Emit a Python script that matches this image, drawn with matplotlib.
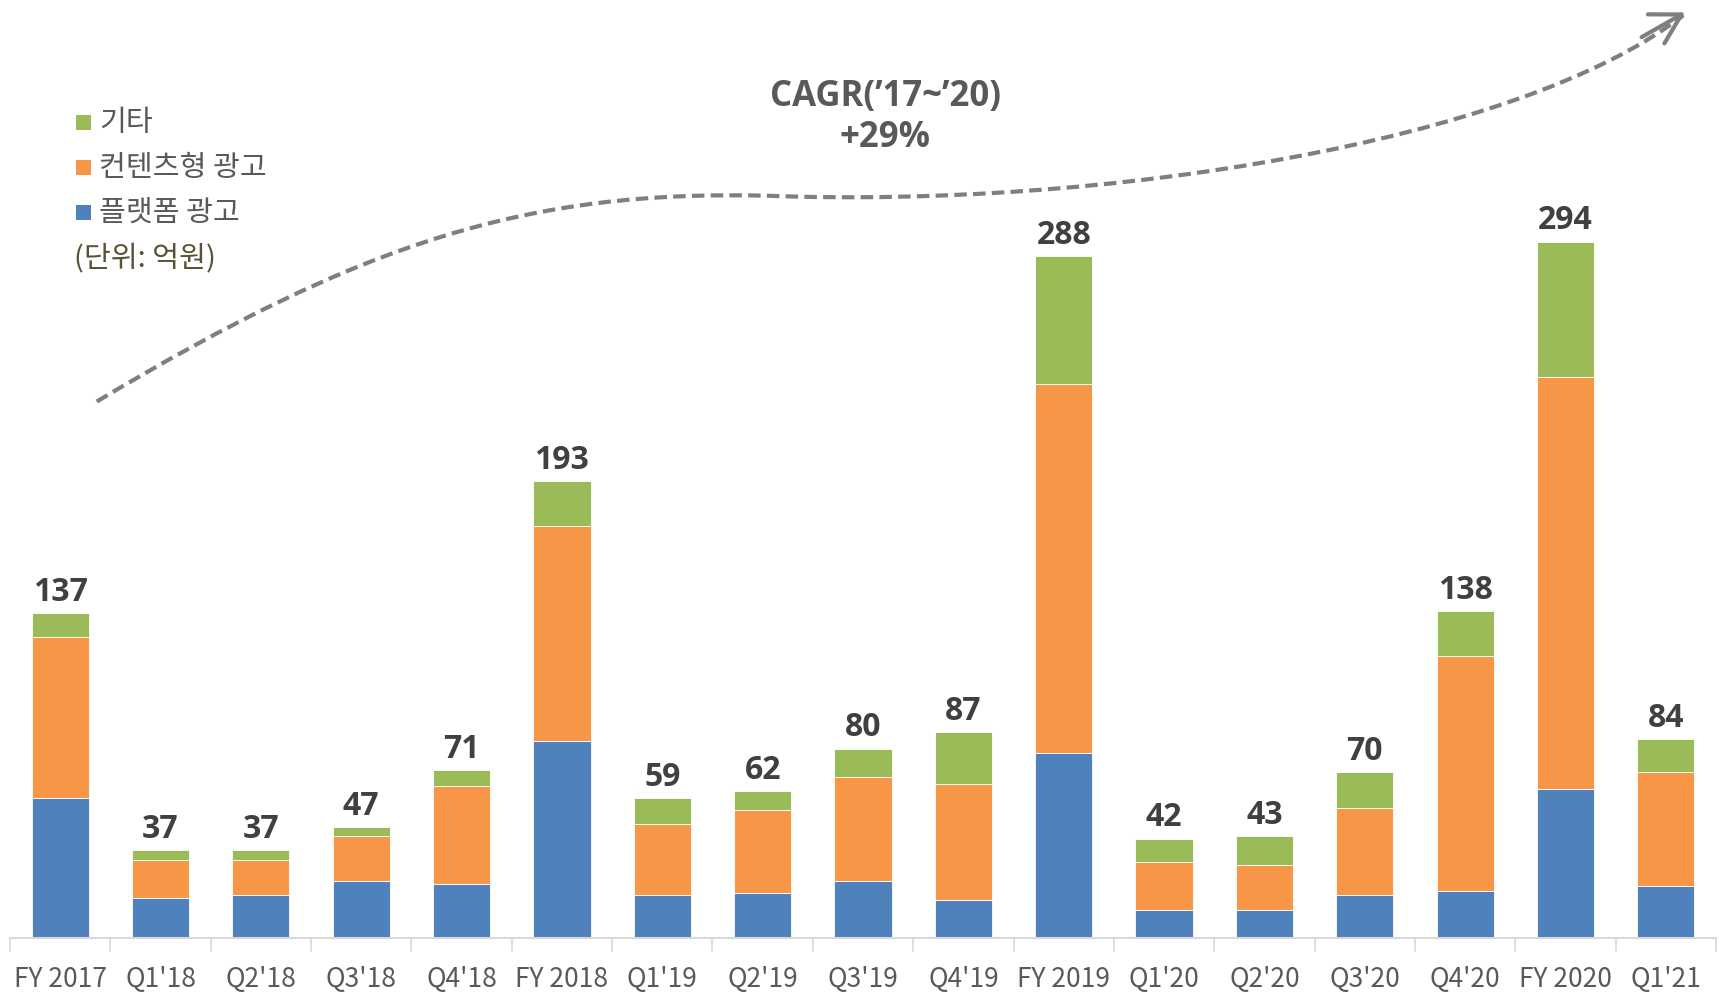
import numpy as np
import matplotlib
matplotlib.use('Agg')
from matplotlib import pyplot as plt
from matplotlib.path import Path
from matplotlib.patches import PathPatch, Rectangle, FancyArrowPatch

plt.rcParams['font.family'] = ['Noto Sans CJK KR', 'DejaVu Sans']

categories = ["FY 2017", "Q1'18", "Q2'18", "Q3'18", "Q4'18", "FY 2018",
              "Q1'19", "Q2'19", "Q3'19", "Q4'19", "FY 2019",
              "Q1'20", "Q2'20", "Q3'20", "Q4'20", "FY 2020", "Q1'21"]
platform = [59, 17, 18, 24, 23, 83, 18, 19, 24, 16, 78, 12, 12, 18, 20, 63, 22]
content = [68, 16, 15, 19, 41, 91, 30, 35, 44, 49, 156, 20, 19, 37, 99, 174, 48]
other = [10, 4, 4, 4, 7, 19, 11, 8, 12, 22, 54, 10, 12, 15, 19, 57, 14]
totals = [137, 37, 37, 47, 71, 193, 59, 62, 80, 87, 288, 42, 43, 70, 138, 294, 84]

BLUE = '#4F81BD'
ORANGE = '#F79646'
GREEN = '#9BBB59'
TXT = '#595959'
LATIN = ['Open Sans', 'Noto Sans CJK KR']

W, H = 1725, 992
fig = plt.figure(figsize=(W / 100, H / 100), dpi=100)
ax = fig.add_axes([10 / W, (H - 938) / H, (1716 - 10) / W, 938 / H])

x = np.arange(len(categories))
p = np.array(platform)
c = np.array(content)
o = np.array(other)
bw = 0.57
ax.bar(x, p, bw, color=BLUE, edgecolor='white', linewidth=0.6)
ax.bar(x, c, bw, bottom=p, color=ORANGE, edgecolor='white', linewidth=0.6)
ax.bar(x, o, bw, bottom=p + c, color=GREEN, edgecolor='white', linewidth=0.6)

for xi, t in zip(x, totals):
    ax.annotate(str(t), (xi, t), xytext=(0, 3), textcoords='offset points',
                ha='center', va='bottom', fontsize=23, fontweight='bold',
                color='#404040', family=LATIN)

ax.set_xlim(-0.5, len(categories) - 0.5)
ax.set_ylim(0, 396)
ax.set_yticks([])
for s in ['top', 'right', 'left']:
    ax.spines[s].set_visible(False)
ax.spines['bottom'].set_color('#d9d9d9')
ax.spines['bottom'].set_linewidth(1.5)
ax.set_xticks(x)
ax.set_xticklabels(categories, fontsize=19, color=TXT)
ax.tick_params(axis='x', which='major', length=0, pad=20)
ax.set_xticks(np.arange(-0.5, len(categories), 1), minor=True)
ax.tick_params(axis='x', which='minor', length=10, width=1.2, color='#d9d9d9')

# legend drawn by hand
def fxy(px, py):
    return px / W, 1 - py / H

leg = [(GREEN, '기타', 123), (ORANGE, '컨텐츠형 광고', 168), (BLUE, '플랫폼 광고', 213)]
for col, lab, yy in leg:
    fx, fy = fxy(76, yy + 7)
    fig.patches.append(Rectangle((fx, fy), 15 / W, 15 / H, transform=fig.transFigure,
                                 facecolor=col, edgecolor='none'))
    fig.text(*fxy(99, yy), lab, fontsize=21, color=TXT, va='center', ha='left')
fig.text(*fxy(74, 259), '(단위: 억원)', fontsize=21, color='#5a5235', va='center', ha='left')

fig.text(*fxy(885, 97), 'CAGR(’17~’20)', fontsize=25, fontweight='bold',
         color=TXT, ha='center', va='center', family=LATIN)
fig.text(*fxy(885, 138), '+29%', fontsize=25, fontweight='bold',
         color=TXT, ha='center', va='center', family=LATIN)

# dashed growth curve (pixel coords of the reference)
k = 1725 / 1568
pts = [(88, 365), (330, 220), (480, 172), (700, 178),
       (1000, 189), (1380, 130), (1530, 14)]
verts = [fxy(px * k, py * k) for px, py in pts]
codes = [Path.MOVETO] + [Path.CURVE4] * 6
fig.patches.append(PathPatch(Path(verts, codes), transform=fig.transFigure,
                             facecolor='none', edgecolor='#7f7f7f', linewidth=3,
                             linestyle=(0, (3, 1.5))))
fig.patches.append(FancyArrowPatch(
    fxy(1490 * k, 35 * k), fxy(1534 * k, 10 * k), transform=fig.transFigure,
    arrowstyle='->,head_length=14,head_width=8', color='#7f7f7f', linewidth=3,
    mutation_scale=1.5))

fig.savefig('out.png', dpi=100)
